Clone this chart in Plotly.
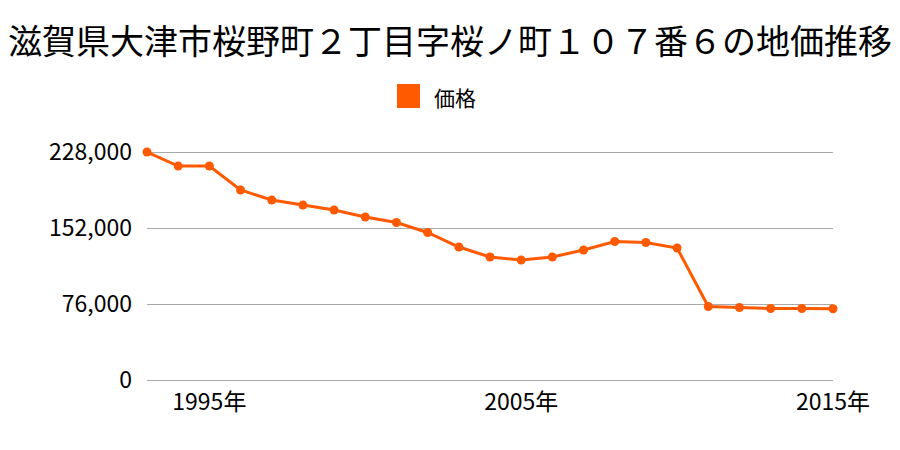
import plotly.graph_objects as go

years = list(range(1993, 2016))
prices = [228000, 214000, 214000, 190000, 180000, 175000, 170000, 163000, 157500, 147500,
          133000, 123000, 120000, 123000, 130000, 138500, 137500, 132000,
          73500, 72500, 71500, 71500, 71300]
ytick_vals = [0, 76000, 152000, 228000]
ytick_text = ["0", "76,000", "152,000", "228,000"]
xtick_vals = [1995, 2005, 2015]
xtick_text = ["1995年", "2005年", "2015年"]
title = "滋賀県大津市桜野町２丁目字桜ノ町１０７番６の地価推移"
series_name = "価格"
color = "#ff5a00"
font = "Noto Sans CJK JP"

pad = 2000  # range padding so edge grid lines are drawn
top_px, bot_px = 152 - pad / 1000, 70 - pad / 1000

fig = go.Figure()
fig.add_trace(go.Scatter(
    x=years, y=prices, name=series_name, mode="lines+markers",
    line=dict(color=color, width=3),
    marker=dict(color=color, size=9),
    cliponaxis=False,
    showlegend=False,
))

# legend drawn manually: square + label (paper coords)
H = 450 - top_px - bot_px
def py(pix):
    return (450 - bot_px - pix) / H

fig.add_shape(type="rect", xref="paper", yref="paper",
              x0=(397 - 147) / 686, x1=(420 - 147) / 686,
              y0=py(108), y1=py(84),
              fillcolor=color, line=dict(width=0))
fig.add_annotation(text=series_name, xref="paper", yref="paper",
                   x=(432 - 147) / 686, y=py(97),
                   xanchor="left", yanchor="middle", showarrow=False,
                   font=dict(size=21, family=font, color="#000000"))

fig.update_layout(
    width=900, height=450,
    margin=dict(l=147, r=67, t=top_px, b=bot_px),
    paper_bgcolor="white", plot_bgcolor="white",
    font=dict(family=font, color="#000000", size=23),
    title=dict(text=title, x=0.5, xanchor="center", y=0.907, yanchor="middle",
               font=dict(size=34, family=font)),
    showlegend=False,
)
fig.update_xaxes(range=[1993, 2015], tickvals=xtick_vals, ticktext=xtick_text,
                 showgrid=False, zeroline=False, showline=False, ticks="",
                 tickfont=dict(size=23), ticklabelstandoff=4)
fig.update_yaxes(range=[-pad, 228000 + pad], tickvals=ytick_vals, ticktext=ytick_text,
                 showgrid=True, gridcolor="#aaaaaa", gridwidth=1,
                 zeroline=False, showline=False, ticks="",
                 tickfont=dict(size=23), ticklabelstandoff=14)

fig.write_html("out.html")
